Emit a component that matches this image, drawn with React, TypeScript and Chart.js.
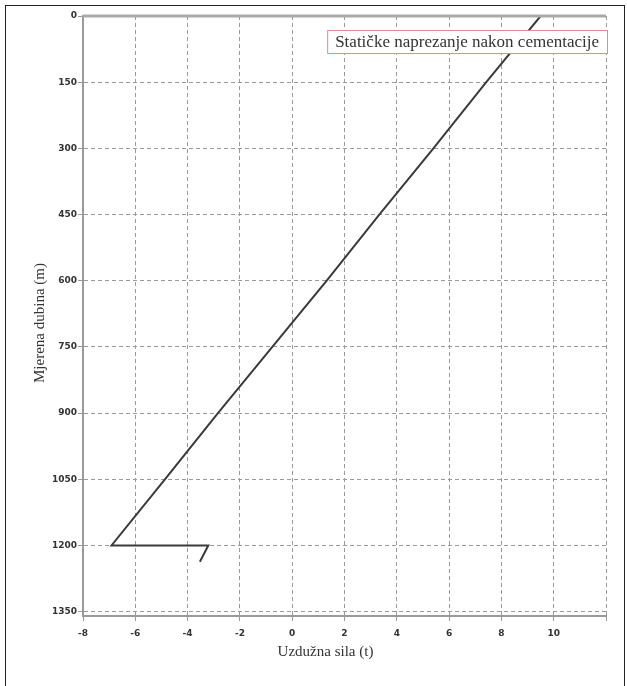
import React, { useEffect, useRef } from "react";
import { Chart, registerables } from "chart.js";

Chart.register(...registerables);

const depthM = [0, 150, 300, 450, 600, 750, 900, 1050, 1200, 1200, 1237];
const forceT = [9.5, 7.42, 5.4, 3.33, 1.32, -0.76, -2.84, -4.86, -6.91, -3.21, -3.53];
const yTickValues = [0, 150, 300, 450, 600, 750, 900, 1050, 1200, 1350];
const xTickValues = [-8, -6, -4, -2, 0, 2, 4, 6, 8, 10, 12];
const xTickShown = [-8, -6, -4, -2, 0, 2, 4, 6, 8, 10];
const legendText = "Statičke naprezanje nakon cementacije";
const xTitle = "Uzdužna sila (t)";
const yTitle = "Mjerena dubina (m)";

const W = 627;
const H = 686;

const decorPlugin = {
  id: "decor",
  afterDraw(chart: any) {
    const { ctx, chartArea } = chart;
    ctx.save();
    // top border
    ctx.strokeStyle = "#aaaaaa";
    ctx.lineWidth = 3;
    ctx.beginPath();
    ctx.moveTo(chartArea.left, chartArea.top);
    ctx.lineTo(chartArea.right, chartArea.top);
    ctx.stroke();

    // legend box
    ctx.font = "17px 'Liberation Serif', serif";
    const tw = ctx.measureText(legendText).width;
    const boxR = chartArea.right + 1;
    const boxW = tw + 16;
    const boxL = boxR - boxW;
    const boxT = chartArea.top + 14;
    const boxH = 23;
    ctx.fillStyle = "#ffffff";
    ctx.fillRect(boxL, boxT, boxW, boxH);
    ctx.strokeStyle = "#e88a8a";
    ctx.lineWidth = 1;
    ctx.strokeRect(boxL + 0.5, boxT + 0.5, boxW, boxH);
    ctx.fillStyle = "#333333";
    ctx.textBaseline = "middle";
    ctx.textAlign = "left";
    ctx.fillText(legendText, boxL + 8, boxT + boxH / 2 + 1);

    // axis titles
    ctx.font = "15px 'Liberation Serif', serif";
    ctx.textAlign = "center";
    ctx.fillText(xTitle, (chartArea.left + chartArea.right) / 2 - 19, chartArea.bottom + 36);
    ctx.translate(chartArea.left - 43, (chartArea.top + chartArea.bottom) / 2 + 7);
    ctx.rotate(-Math.PI / 2);
    ctx.fillText(yTitle, 0, 0);
    ctx.restore();
  },
};

export default function App() {
  const ref = useRef<HTMLCanvasElement | null>(null);
  useEffect(() => {
    if (!ref.current) return;
    const points = depthM.map((d, i) => ({ x: forceT[i], y: d }));
    const chart = new Chart(ref.current, {
      type: "scatter",
      data: {
        datasets: [
          {
            label: legendText,
            data: points,
            showLine: true,
            borderColor: "#3a3a3a",
            borderWidth: 2,
            pointRadius: 0,
            tension: 0,
          },
        ],
      },
      options: {
        animation: false,
        responsive: false,
        layout: { padding: { top: 16, right: 21, left: 0, bottom: 0 } },
        plugins: { legend: { display: false }, tooltip: { enabled: false } },
        scales: {
          x: {
            type: "linear",
            min: -8,
            max: 12,
            afterBuildTicks: (s: any) => {
              s.ticks = xTickValues.map((v) => ({ value: v }));
            },
            afterFit: (s: any) => {
              s.height = 70;
            },
            ticks: {
              callback: (v: any) => (xTickShown.includes(Number(v)) ? String(v) : ""),
              font: { family: "'DejaVu Sans', sans-serif", size: 9, weight: "bold" },
              color: "#333",
              padding: 7,
              maxRotation: 0,
            },
            grid: { color: "#9a9a9a", lineWidth: 1, tickLength: 5, drawTicks: true },
            border: { display: true, color: "#9a9a9a", width: 2, dash: [4, 3] },
          },
          y: {
            type: "linear",
            reverse: true,
            min: 0,
            max: 1360,
            afterBuildTicks: (s: any) => {
              s.ticks = yTickValues.map((v) => ({ value: v }));
            },
            afterFit: (s: any) => {
              s.width = 83;
            },
            ticks: {
              callback: (v: any) => String(v),
              font: { family: "'DejaVu Sans', sans-serif", size: 9, weight: "bold" },
              color: "#333",
              padding: 1,
            },
            grid: { color: "#9a9a9a", lineWidth: 1, tickLength: 5, drawTicks: true },
            border: { display: true, color: "#9a9a9a", width: 2, dash: [4, 3] },
          },
        },
      },
      plugins: [decorPlugin],
    } as any);
    return () => chart.destroy();
  }, []);

  return (
    <div>
      <div
        style={{
          position: "fixed",
          left: 5,
          top: 5,
          width: 620,
          height: 700,
          border: "1px solid #222",
          boxSizing: "border-box",
        }}
      />
      <canvas
        ref={ref}
        width={W}
        height={H}
        style={{ position: "fixed", left: 0, top: 0, width: W, height: H }}
      />
    </div>
  );
}
